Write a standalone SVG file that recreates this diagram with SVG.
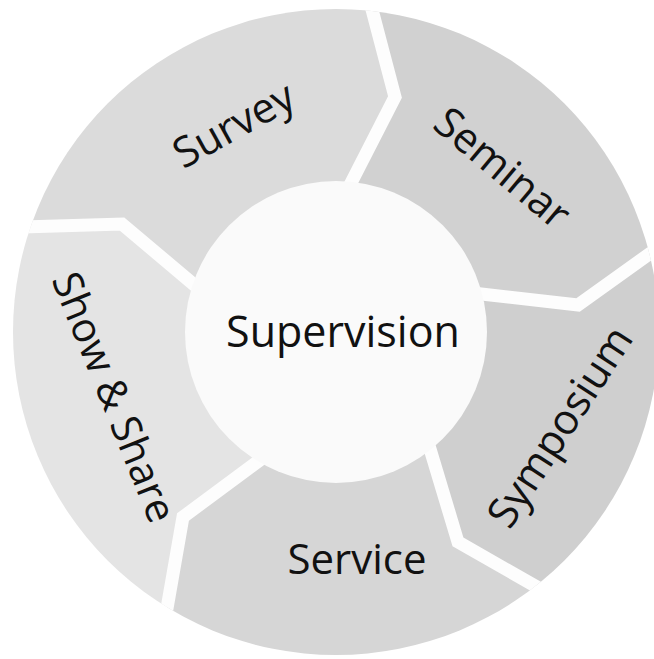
<svg xmlns="http://www.w3.org/2000/svg" width="654" height="659" viewBox="0 0 654 659">
<style>
.lbl{font-family:"Open Sans","Noto Sans","DejaVu Sans",sans-serif;font-size:42px;fill:#111;text-anchor:middle}
.sep{fill:none;stroke:#fdfdfd;stroke-width:13;stroke-linejoin:miter}
</style>
<defs>
<clipPath id="ring"><circle cx="336" cy="332" r="323"/></clipPath>
</defs>
<rect width="654" height="659" fill="#ffffff"/>
<g clip-path="url(#ring)">
<g id="survey">
<polygon fill="#dbdbdb" points="336,332 202,291.5 122,224 -8.6,228 45.4,119.6 132.1,35.3 241.9,-15.5 362.4,-27 395,97 346.2,192.4"/>
</g>
<g id="seminar">
<polygon fill="#d1d1d1" points="336,332 346.2,192.4 395,97 362.4,-27 468.5,-2.7 562.3,52 635.5,132.3 681.5,230.9 578,305 470.4,292.7"/>
</g>
<g id="symposium">
<polygon fill="#cfcfcf" points="336,332 470.4,292.7 578,305 681.5,230.9 696,332.9 681,434.9 637.8,528.3 569.8,605.7 458,542 426.9,438.5"/>
</g>
<g id="service">
<polygon fill="#d6d6d6" points="336,332 426.9,438.5 458,542 569.8,605.7 477.2,663.1 371.7,690.2 262.4,684.4 160.4,646.2 183,517 267.7,454.2"/>
</g>
<g id="show-share">
<polygon fill="#e4e4e4" points="336,332 267.7,454.2 183,517 160.4,646.2 66,570.1 2.2,466.9 -23.6,348.3 -8.6,228 122,224 202,291.5"/>
</g>
<g id="separators">
<polyline class="sep" points="346.2,192.4 395,97 362.4,-27"/>
<polyline class="sep" points="470.4,292.7 578,305 681.5,230.9"/>
<polyline class="sep" points="426.9,438.5 458,542 569.8,605.7"/>
<polyline class="sep" points="267.7,454.2 183,517 160.4,646.2"/>
<polyline class="sep" points="202,291.5 122,224 -8.6,228"/>
</g>
</g>
<g id="supervision">
<circle cx="336" cy="332" r="151" fill="#fafafa"/>
<text class="lbl" x="343" y="347" style="font-size:43px">Supervision</text>
</g>
<g id="labels">
<text class="lbl" transform="translate(235,127) rotate(-29)" x="0" y="12">Survey</text>
<text class="lbl" transform="translate(501,170) rotate(40)" x="0" y="12">Seminar</text>
<text class="lbl" transform="translate(562,428) rotate(-57)" x="0" y="12">Symposium</text>
<text class="lbl" x="357" y="574">Service</text>
<text class="lbl" transform="translate(112,398) rotate(68)" x="0" y="12" style="font-size:41px">Show &amp; Share</text>
</g>
</svg>
